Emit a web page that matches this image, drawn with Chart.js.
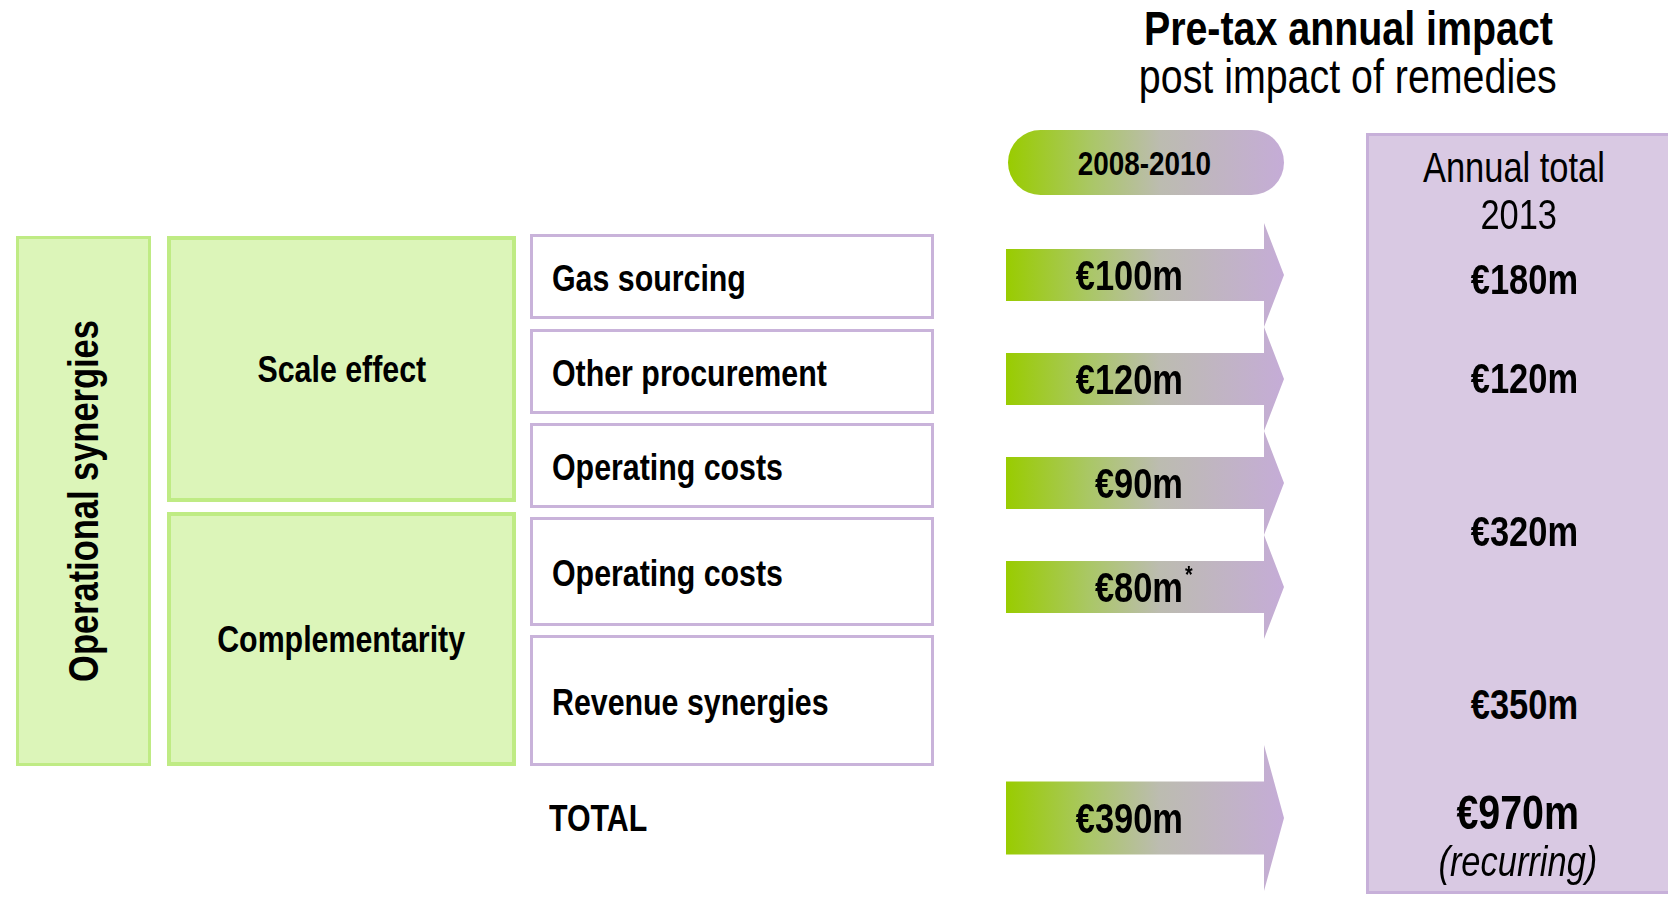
<!DOCTYPE html>
<html>
<head>
<meta charset="utf-8">
<script src="https://cdn.jsdelivr.net/npm/chart.js@4.4.0/dist/chart.umd.min.js"></script>
<style>
html, body { margin: 0; padding: 0; background: #fff; }
body { width: 1668px; height: 900px; position: relative; overflow: hidden; }
.abs { position: absolute; box-sizing: border-box; }
.t { font-family: "Liberation Sans Narrow", "Liberation Sans", Arial, sans-serif; line-height: 1; white-space: nowrap; color: #000; display: inline-block; }
.t.rot { transform: rotate(-90deg); }
body.wide .t { font-family: "Liberation Sans", Arial, sans-serif; transform: scaleX(.82); }
body.wide .t.l { transform-origin: left center; }
body.wide .t.rot { transform: rotate(-90deg) scaleX(.82); }
.green { background: #dcf5b9; border: 4px solid #bfeb84; display: flex; align-items: center; justify-content: center; }
.green.thin { border-width: 3px; }
.row { background: #fff; border: 3px solid #c9b3da; display: flex; align-items: center; padding-left: 19px; padding-top: 3px; }
.pill { border-radius: 33px; display: flex; align-items: center; justify-content: center; padding-right: 4px;
        background: linear-gradient(90deg, #99cc00 0%, #aac766 30%, #bcbcb0 55%, #c5acd7 100%); }
.col { background: #d9c9e3; border: 3px solid #c7b0d9; }
canvas { position: absolute; }
</style>
</head>
<body>
<canvas id="arrows" width="300" height="460" style="left:1000px;top:200px"></canvas>
<canvas id="total" width="300" height="170" style="left:1000px;top:730px"></canvas>
<script>
// data
var group = 'Operational synergies';
var drivers = ['Scale effect', 'Complementarity'];
var rows = ['Gas sourcing', 'Other procurement', 'Operating costs', 'Operating costs', 'Revenue synergies'];
var impact0810 = [100, 120, 90, 80, null];   // EUR m, 2008-2010
var impactNotes = ['', '', '', '*', ''];
var totalLabel = 'TOTAL';
var total0810 = 390;
var annual2013 = [180, 120, 320, 350];       // 320 covers both operating costs rows
var total2013 = 970;
var periods = ['2008-2010', 'Annual total', '2013'];
var titles = ['Pre-tax annual impact', 'post impact of remedies'];

// layout (px)
var rowBox = [[234, 319], [329, 414], [423, 508], [517, 626], [635, 766]];
var driverBox = [[236, 502], [512, 766]];
var annualY = [280, 379, 532, 705];
var HEAD_LEN = 20;
var LABEL_AT = 0.686;
var arrowStops = [[0, '#99cc00'], [0.3, '#aac766'], [0.55, '#bcbcb0'], [1, '#c5acd7']];

function hasFont(name) {
    var c = document.createElement('canvas').getContext('2d');
    c.font = '40px monospace';
    var a = c.measureText('abcdefghijk WMi 0123').width;
    c.font = '40px "' + name + '", monospace';
    var b = c.measureText('abcdefghijk WMi 0123').width;
    return a !== b;
}
var narrowOk = hasFont('Liberation Sans Narrow');
if (!narrowOk) document.body.classList.add('wide');

function box(cls, x, y, w, h) {
    var d = document.createElement('div');
    d.className = 'abs ' + cls;
    d.style.left = x + 'px'; d.style.top = y + 'px';
    d.style.width = w + 'px'; d.style.height = h + 'px';
    document.body.insertBefore(d, document.body.firstChild);
    return d;
}

function span(str, size, weight, style, cls) {
    var s = document.createElement('span');
    s.className = 't' + (cls ? ' ' + cls : '');
    s.style.fontSize = size + 'px';
    s.style.fontWeight = weight;
    s.style.fontStyle = style || 'normal';
    s.textContent = str;
    return s;
}

function label(str, x, cy, size, weight, style, align) {
    var d = document.createElement('div');
    d.className = 'abs';
    d.style.top = (cy - size / 2) + 'px';
    d.style.height = size + 'px';
    d.style.fontSize = size + 'px';
    d.style.lineHeight = '1';
    if (align === 'left') {
        d.style.left = x + 'px';
    } else {
        d.style.left = (x - 300) + 'px';
        d.style.width = '600px';
        d.style.textAlign = 'center';
    }
    d.appendChild(span(str, size, weight, style, align === 'left' ? 'l' : ''));
    document.body.appendChild(d);
}

// left side table
box('green thin', 16, 236, 135, 530).appendChild(span(group, 42, 'bold', 'normal', 'rot'));
drivers.forEach(function (name, i) {
    box('green', 167, driverBox[i][0], 349, driverBox[i][1] - driverBox[i][0]).appendChild(span(name, 37, 'bold'));
});
rows.forEach(function (name, i) {
    box('row', 530, rowBox[i][0], 404, rowBox[i][1] - rowBox[i][0]).appendChild(span(name, 37, 'bold', 'normal', 'l'));
});
label(totalLabel, 549, 818, 37, 'bold', 'normal', 'left');

// headers
label(titles[0], 1348, 29, 48, 'bold');
label(titles[1], 1348, 77, 48, 'normal');
box('pill', 1008, 130, 276, 65).appendChild(span(periods[0], 34, 'bold'));

// 2013 column
box('col', 1366, 133, 320, 761);
label(periods[1], 1514, 168, 42, 'normal');
label(periods[2], 1519, 215, 42, 'normal');
annual2013.forEach(function (v, i) {
    label('\u20ac' + v + 'm', 1524, annualY[i], 42, 'bold');
});
label('\u20ac' + total2013 + 'm', 1518, 813, 48, 'bold');
label('(recurring)', 1518, 862, 42, 'normal', 'italic');

function canvasText(ctx, str, x, y, size, align) {
    ctx.save();
    ctx.fillStyle = '#000';
    ctx.textAlign = align;
    ctx.textBaseline = 'alphabetic';
    ctx.font = 'bold ' + size + 'px ' + (narrowOk ? '"Liberation Sans Narrow"' : '"Liberation Sans"');
    ctx.translate(x, y);
    if (!narrowOk) ctx.scale(0.82, 1);
    ctx.fillText(str, 0, 0);
    var w = ctx.measureText(str).width * (narrowOk ? 1 : 0.82);
    ctx.restore();
    return w;
}

var arrowPlugin = {
    id: 'arrowHeads',
    afterDatasetsDraw: function (chart) {
        var ctx = chart.ctx;
        var ds = chart.data.datasets[0];
        var xs = chart.scales.x;
        chart.getDatasetMeta(0).data.forEach(function (bar, i) {
            var half = bar.height / 2;
            var left = Math.min(bar.base, bar.x);
            var right = Math.max(bar.base, bar.x);
            var tip = right + HEAD_LEN;
            var g = ctx.createLinearGradient(left, 0, tip, 0);
            arrowStops.forEach(function (s) { g.addColorStop(s[0], s[1]); });
            ctx.save();
            ctx.fillStyle = g;
            ctx.beginPath();
            ctx.moveTo(left, bar.y - half);
            ctx.lineTo(right, bar.y - half);
            ctx.lineTo(right, bar.y - 2 * half);
            ctx.lineTo(tip, bar.y);
            ctx.lineTo(right, bar.y + 2 * half);
            ctx.lineTo(right, bar.y + half);
            ctx.lineTo(left, bar.y + half);
            ctx.closePath();
            ctx.fill();
            ctx.restore();

            var tx = xs.getPixelForValue(LABEL_AT);
            canvasText(ctx, '\u20ac' + ds.values[i] + 'm', tx, bar.y + 15, 42, 'right');
            if (ds.notes[i]) {
                canvasText(ctx, ds.notes[i], tx + 2, bar.y - 4, 24, 'left');
            }
        });
    }
};

function arrowChart(id, labels, values, notes, thickness, pad) {
    new Chart(document.getElementById(id), {
        type: 'bar',
        data: {
            labels: labels,
            datasets: [{
                data: values.map(function () { return [0, 1]; }),   // each arrow spans 2008-2010 -> 2013
                values: values,
                notes: notes,
                backgroundColor: 'rgba(0,0,0,0)',
                borderWidth: 0,
                barThickness: thickness
            }]
        },
        options: {
            indexAxis: 'y',
            responsive: false,
            animation: false,
            devicePixelRatio: 1,
            layout: { padding: { left: 6, right: 36, top: pad[0], bottom: pad[1] } },
            scales: {
                x: { type: 'linear', min: 0, max: 1, display: false },
                y: { display: false }
            },
            plugins: { legend: { display: false }, tooltip: { enabled: false } }
        },
        plugins: [arrowPlugin]
    });
}

var arrowRows = [], arrowVals = [], arrowNotes = [];
rows.forEach(function (r, i) {
    if (impact0810[i] != null) {
        arrowRows.push(r); arrowVals.push(impact0810[i]); arrowNotes.push(impactNotes[i]);
    }
});
arrowChart('arrows', arrowRows, arrowVals, arrowNotes, 52, [23, 21]);
arrowChart('total', [totalLabel], [total0810], [''], 73, [15, 9]);
</script>
</body>
</html>
